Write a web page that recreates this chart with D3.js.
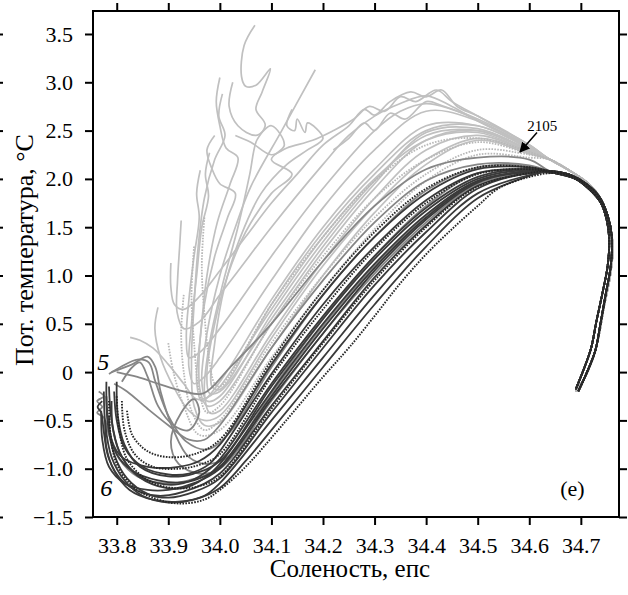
<!DOCTYPE html>
<html>
<head>
<meta charset="utf-8">
<script src="https://cdn.jsdelivr.net/npm/d3@7"></script>
<style>
  body { margin: 0; background: #fff; }
  svg text { font-family: "Liberation Serif", "Times New Roman", serif; fill: #000; }
</style>
</head>
<body>
<svg width="628" height="595"></svg>
<script>
// salinity / potential temperature ticks
let xTicks = [33.8, 33.9, 34.0, 34.1, 34.2, 34.3, 34.4, 34.5, 34.6, 34.7];
let yTicks = [-1.5, -1.0, -0.5, 0, 0.5, 1.0, 1.5, 2.0, 2.5, 3.0, 3.5];
let yTickLabels = ["\u22121.5", "\u22121.0", "\u22120.5", "0", "0.5", "1.0", "1.5", "2.0", "2.5", "3.0", "3.5"];

// profiles as [salinity, theta] from surface down to the T-max
let lightCurves = [
  [[34.068,3.59],[34.047,3.38],[34.042,3.06],[34.05,2.96],[34.07,2.97],[34.098,3.14],[34.082,2.9],[34.07,2.72],[34.088,2.56],[34.07,2.38],[34.058,2.05],[34.035,1.5],[34.005,0.9],[33.98,0.3],[33.97,-0.2],[33.98,-0.42],[34.0,-0.4],[34.1,0.4],[34.2,1.15],[34.3,1.8],[34.4,2.3],[34.5,2.45],[34.6,2.28]],
  [[34.185,3.13],[34.12,2.5],[34.06,1.92],[34.03,1.5],[34.0,1.0],[33.975,0.4],[33.965,-0.1],[33.975,-0.3],[34.0,-0.25],[34.1,0.6],[34.2,1.35],[34.3,1.98],[34.4,2.45],[34.5,2.5],[34.6,2.3]],
  [[34.0,3.05],[33.993,2.8],[34.0,2.55],[34.012,2.32],[34.035,2.22],[34.02,1.95],[33.995,1.55],[33.975,1.0],[33.963,0.4],[33.955,-0.1],[33.965,-0.3],[34.0,-0.1],[34.1,0.75],[34.2,1.5],[34.3,2.1],[34.4,2.55],[34.5,2.55],[34.6,2.32]],
  [[33.98,2.27],[33.972,2.05],[33.978,1.82],[33.965,1.5],[33.955,1.0],[33.945,0.5],[33.94,0.05],[33.95,-0.12],[33.97,-0.05],[34.0,0.15],[34.1,0.95],[34.2,1.7],[34.3,2.3],[34.4,2.7],[34.5,2.6],[34.6,2.33]],
  [[33.962,2.09],[33.955,1.85],[33.96,1.6],[33.95,1.2],[33.94,0.75],[33.935,0.35],[33.94,0.15],[33.96,0.2],[34.0,0.45],[34.1,1.2],[34.2,1.9],[34.3,2.5],[34.35,2.7],[34.4,2.78],[34.45,2.72],[34.5,2.62],[34.6,2.35]],
  [[33.925,1.57],[33.922,1.3],[33.918,0.95],[33.917,0.62],[33.93,0.45],[33.96,0.52],[34.0,0.8],[34.05,1.15],[34.1,1.5],[34.2,2.15],[34.25,2.45],[34.3,2.65],[34.35,2.78],[34.4,2.86],[34.45,2.75],[34.5,2.6],[34.6,2.33]],
  [[33.905,1.13],[33.905,0.88],[33.912,0.7],[33.93,0.65],[33.96,0.78],[34.0,1.05],[34.05,1.4],[34.1,1.75],[34.15,2.05],[34.2,2.35],[34.25,2.55],[34.28,2.72],[34.3,2.66],[34.33,2.8],[34.37,2.9],[34.4,2.85],[34.43,2.92],[34.46,2.75],[34.5,2.65],[34.6,2.35]],
  [[33.826,0.36],[33.845,0.33],[33.87,0.25],[33.9,0.08],[33.93,-0.12],[33.955,-0.28],[33.98,-0.25],[34.0,-0.15],[34.1,0.65],[34.2,1.4],[34.3,2.0],[34.4,2.4],[34.5,2.48],[34.6,2.28]],
  [[33.88,0.67],[33.874,0.45],[33.885,0.15],[33.91,-0.15],[33.94,-0.4],[33.97,-0.5],[34.0,-0.45],[34.1,0.35],[34.2,1.1],[34.3,1.72],[34.4,2.2],[34.5,2.42],[34.6,2.27]],
  [[34.005,2.88],[33.998,2.65],[34.01,2.45],[33.99,2.2],[33.97,1.8],[33.958,1.3],[33.95,0.7],[33.945,0.1],[33.95,-0.35],[33.97,-0.55],[34.0,-0.52],[34.1,0.25],[34.2,1.0],[34.3,1.65],[34.4,2.15],[34.5,2.4],[34.6,2.26]],
  [[34.025,3.0],[34.018,2.75],[34.035,2.55],[34.07,2.45],[34.1,2.55],[34.125,2.35],[34.1,2.2],[34.14,2.05],[34.1,1.85],[34.05,1.45],[34.015,1.0],[33.99,0.5],[33.975,0.0],[33.98,-0.22],[34.0,-0.2],[34.1,0.55],[34.2,1.3],[34.3,1.95],[34.4,2.48],[34.5,2.52],[34.6,2.3]],
  [[34.03,2.45],[34.06,2.38],[34.1,2.25],[34.13,2.32],[34.18,2.4],[34.22,2.5],[34.26,2.62],[34.29,2.75],[34.32,2.7],[34.35,2.85],[34.38,2.8],[34.42,2.92],[34.45,2.8],[34.5,2.65],[34.55,2.5],[34.6,2.35]],
  [[33.99,2.45],[33.975,2.3],[33.985,2.1],[34.0,1.95],[34.03,1.85],[34.015,1.6],[33.99,1.2],[33.97,0.7],[33.96,0.2],[33.962,-0.2],[33.975,-0.35],[34.0,-0.3],[34.1,0.5],[34.2,1.25],[34.3,1.9],[34.4,2.4],[34.5,2.5],[34.6,2.29]],
  [[34.14,2.72],[34.13,2.55],[34.145,2.5],[34.15,2.62],[34.165,2.48],[34.17,2.58],[34.2,2.42],[34.17,2.3],[34.13,2.15],[34.08,1.85],[34.04,1.4],[34.01,0.9],[33.99,0.3],[33.985,-0.15],[34.0,-0.18],[34.1,0.7],[34.2,1.45],[34.3,2.05],[34.4,2.5],[34.5,2.55],[34.6,2.31]],
  [[34.22,2.3],[34.25,2.42],[34.28,2.58],[34.3,2.5],[34.33,2.68],[34.36,2.62],[34.4,2.8],[34.43,2.76],[34.47,2.68],[34.52,2.55],[34.56,2.45],[34.6,2.34]]
];

let lightDotted = [
  [[33.93,0.8],[33.925,0.4],[33.93,0.0],[33.945,-0.4],[33.97,-0.6],[34.0,-0.5],[34.1,0.3],[34.2,1.0],[34.3,1.6],[34.4,2.05],[34.5,2.3],[34.6,2.25]],
  [[33.95,1.3],[33.945,0.8],[33.95,0.3],[33.96,-0.2],[33.975,-0.42],[34.0,-0.35],[34.1,0.5],[34.2,1.2],[34.3,1.8],[34.4,2.2],[34.5,2.38],[34.6,2.26]],
  [[33.9,0.3],[33.91,0.0],[33.93,-0.35],[33.96,-0.65],[34.0,-0.6],[34.1,0.15],[34.2,0.85],[34.3,1.48],[34.4,1.98],[34.5,2.25],[34.6,2.22]],
  [[33.97,1.6],[33.965,1.1],[33.97,0.6],[33.98,0.1],[33.99,-0.12],[34.0,-0.15],[34.1,0.7],[34.2,1.4],[34.3,1.98],[34.4,2.35],[34.5,2.42],[34.6,2.28]]
];

let grayCurves = [
  [[33.785,-0.02],[33.81,0.06],[33.84,0.13],[33.862,0.1],[33.875,-0.1],[33.9,-0.45],[33.935,-0.72],[33.975,-0.8],[34.02,-0.62],[34.1,0.05],[34.2,0.8],[34.3,1.4],[34.4,1.88],[34.5,2.12],[34.6,2.13]],
  [[33.79,0.0],[33.83,0.08],[33.86,0.16],[33.875,0.05],[33.885,-0.2],[33.91,-0.6],[33.94,-0.88],[33.98,-0.95],[34.04,-0.78],[34.1,-0.2],[34.2,0.55],[34.3,1.2],[34.4,1.72],[34.5,2.06],[34.6,2.1]],
  [[33.795,-0.12],[33.82,-0.2],[33.86,-0.38],[33.9,-0.55],[33.94,-0.7],[33.97,-0.7],[34.0,-0.55],[34.1,0.25],[34.2,0.95],[34.3,1.55],[34.4,1.98],[34.5,2.15],[34.6,2.14]],
  [[33.8,0.0],[33.84,-0.05],[33.88,-0.12],[33.93,-0.2],[33.968,-0.22],[34.02,0.05],[34.1,0.5],[34.2,1.15],[34.3,1.72],[34.4,2.1],[34.5,2.22],[34.6,2.2]],
  [[33.81,-0.1],[33.83,0.05],[33.845,0.1],[33.86,-0.05],[33.88,-0.35],[33.91,-0.55],[33.94,-0.6],[33.96,-0.42],[33.95,-0.28],[33.925,-0.42],[33.905,-0.72],[33.92,-0.95],[33.96,-1.05],[34.0,-1.0],[34.1,-0.3],[34.2,0.4],[34.3,1.02],[34.4,1.55],[34.5,1.95],[34.6,2.06]],
  [[33.765,-0.2],[33.775,-0.25],[33.762,-0.3],[33.772,-0.36],[33.762,-0.42],[33.775,-0.47],[33.785,-0.65],[33.805,-0.9],[33.84,-1.08],[33.89,-1.15],[33.94,-1.12],[34.0,-0.98],[34.1,-0.22],[34.2,0.48],[34.3,1.1],[34.4,1.62],[34.5,1.98],[34.6,2.08]]
];

let darkCurves = [
  [[33.775,-0.2],[33.778,-0.55],[33.79,-0.88],[33.815,-1.12],[33.85,-1.28],[33.9,-1.35],[33.95,-1.32],[34.0,-1.2],[34.05,-0.92],[34.1,-0.6],[34.2,0.05],[34.3,0.7],[34.4,1.3],[34.5,1.8],[34.6,2.03]],
  [[33.78,-0.1],[33.782,-0.5],[33.795,-0.85],[33.82,-1.1],[33.86,-1.26],[33.9,-1.3],[33.95,-1.24],[34.0,-1.1],[34.1,-0.42],[34.2,0.25],[34.3,0.9],[34.4,1.45],[34.5,1.9],[34.6,2.06]],
  [[33.785,-0.15],[33.79,-0.5],[33.805,-0.82],[33.835,-1.05],[33.88,-1.18],[33.93,-1.2],[33.97,-1.1],[34.0,-0.95],[34.1,-0.2],[34.2,0.5],[34.3,1.12],[34.4,1.63],[34.5,1.98],[34.6,2.08]],
  [[33.79,-0.3],[33.793,-0.6],[33.81,-0.88],[33.84,-1.06],[33.88,-1.15],[33.92,-1.16],[33.96,-1.08],[34.0,-0.9],[34.1,-0.12],[34.2,0.58],[34.3,1.2],[34.4,1.7],[34.5,2.02],[34.6,2.1]],
  [[33.772,-0.3],[33.763,-0.36],[33.77,-0.42],[33.775,-0.62],[33.785,-0.9],[33.81,-1.12],[33.85,-1.25],[33.89,-1.28],[33.94,-1.22],[34.0,-1.05],[34.1,-0.35],[34.2,0.32],[34.3,0.98],[34.4,1.52],[34.5,1.93],[34.6,2.06]],
  [[33.78,-0.25],[33.785,-0.58],[33.8,-0.85],[33.83,-1.02],[33.88,-1.12],[33.93,-1.14],[33.97,-1.08],[34.0,-0.98],[34.1,-0.25],[34.2,0.45],[34.3,1.08],[34.4,1.6],[34.5,1.97],[34.6,2.07]],
  [[33.795,-0.2],[33.8,-0.5],[33.815,-0.78],[33.85,-0.98],[33.9,-1.06],[33.94,-1.05],[33.98,-0.95],[34.0,-0.82],[34.1,-0.02],[34.2,0.7],[34.3,1.3],[34.4,1.78],[34.5,2.06],[34.6,2.1]],
  [[33.77,-0.4],[33.772,-0.7],[33.785,-0.98],[33.815,-1.15],[33.86,-1.22],[33.9,-1.22],[33.95,-1.15],[34.0,-1.0],[34.1,-0.28],[34.2,0.4],[34.3,1.05],[34.4,1.58],[34.5,1.96],[34.6,2.08]],
  [[33.785,-0.45],[33.79,-0.7],[33.81,-0.88],[33.86,-0.98],[33.92,-0.98],[33.96,-0.92],[34.0,-0.75],[34.1,0.08],[34.2,0.8],[34.3,1.4],[34.4,1.85],[34.5,2.1],[34.6,2.12]],
  [[33.8,-0.1],[33.802,-0.45],[33.815,-0.75],[33.845,-0.98],[33.9,-1.08],[33.95,-1.05],[34.0,-0.92],[34.1,-0.15],[34.2,0.55],[34.3,1.17],[34.4,1.67],[34.5,2.0],[34.6,2.09]],
  [[33.778,-0.5],[33.78,-0.78],[33.795,-1.02],[33.825,-1.22],[33.87,-1.32],[33.92,-1.34],[33.97,-1.28],[34.0,-1.15],[34.1,-0.5],[34.2,0.15],[34.3,0.8],[34.4,1.38],[34.5,1.85],[34.6,2.04]]
];

let darkDotted = [
  [[33.785,-0.3],[33.788,-0.65],[33.8,-0.95],[33.83,-1.18],[33.87,-1.3],[33.92,-1.36],[33.97,-1.32],[34.0,-1.22],[34.05,-0.98],[34.1,-0.68],[34.2,-0.05],[34.25,0.25],[34.3,0.58],[34.35,0.92],[34.4,1.22],[34.45,1.48],[34.5,1.72],[34.54,1.9],[34.6,2.02]],
  [[33.8,-0.25],[33.805,-0.6],[33.82,-0.9],[33.86,-1.12],[33.91,-1.2],[33.96,-1.18],[34.0,-1.08],[34.1,-0.38],[34.2,0.3],[34.3,0.95],[34.4,1.5],[34.5,1.92],[34.6,2.06]],
  [[33.81,-0.3],[33.815,-0.6],[33.835,-0.85],[33.87,-0.98],[33.92,-1.0],[33.96,-0.96],[34.0,-0.85],[34.1,-0.05],[34.2,0.65],[34.3,1.27],[34.4,1.75],[34.5,2.05],[34.6,2.1]],
  [[33.82,-0.4],[33.83,-0.65],[33.86,-0.82],[33.9,-0.88],[33.95,-0.85],[34.0,-0.7],[34.1,0.12],[34.2,0.85],[34.3,1.45],[34.4,1.9],[34.5,2.12],[34.6,2.12]]
];

// deep part shared by the profiles (T-max down to bottom water)
let tailLight = [[34.64,2.2],[34.68,2.08],[34.715,1.95],[34.74,1.78],[34.755,1.55],[34.762,1.3],[34.757,1.0],[34.745,0.68],[34.735,0.38],[34.722,0.12],[34.705,-0.08],[34.69,-0.2]];
let tailDark = [[34.64,2.08],[34.68,2.04],[34.71,1.95],[34.735,1.82],[34.752,1.62],[34.76,1.4],[34.758,1.1],[34.748,0.8],[34.738,0.5],[34.728,0.22],[34.712,0.0],[34.695,-0.2]];
let tailDark2 = [[34.65,2.06],[34.69,2.0],[34.715,1.9],[34.738,1.76],[34.75,1.58],[34.755,1.38],[34.752,1.1],[34.742,0.82],[34.73,0.52],[34.72,0.25],[34.705,0.02],[34.69,-0.18]];

// arrow for station 2105: [label, tail, tip]
let note2105 = [[34.625, 2.5], [34.615, 2.48], [34.582, 2.278]];

/***************************/

let margin = {top: 11, right: 9, bottom: 78, left: 93};
let width = 628 - margin.left - margin.right;
let height = 595 - margin.top - margin.bottom;

let xScale = d3.scaleLinear().domain([33.754, 34.774]).range([0, width]);
let yScale = d3.scaleLinear().domain([-1.5, 3.738]).range([height, 0]);

let svg = d3.select("svg");

let g = svg.append("g")
  .attr("transform", `translate(${margin.left}, ${margin.top})`);

g.append("clipPath").attr("id", "plot-clip")
  .append("rect").attr("width", width).attr("height", height);

let line = d3.line()
  .x(d => xScale(d[0]))
  .y(d => yScale(d[1]))
  .curve(d3.curveCatmullRom.alpha(0.5));

let curves = g.append("g").attr("clip-path", "url(#plot-clip)");

function drawSet(data, tails, color, w, dash) {
  curves.append("g").selectAll("path")
    .data(data)
    .join("path")
    .attr("d", (d, i) => line(d.concat(tails[i % tails.length])))
    .attr("fill", "none")
    .attr("stroke", color)
    .attr("stroke-width", w)
    .attr("stroke-linejoin", "round")
    .attr("stroke-dasharray", dash);
}

drawSet(lightCurves, [tailLight], "#c0c0c0", 1.7, null);
drawSet(lightDotted, [tailLight], "#b8b8b8", 1.8, "1.6,1.3");
drawSet(grayCurves, [tailDark2, tailDark], "#868686", 1.8, null);
drawSet(darkCurves, [tailDark, tailDark2], "#3a3a3a", 1.8, null);
drawSet(darkDotted, [tailDark2, tailDark], "#262626", 1.9, "1.6,1.3");

// axes
function styleAxis(sel) {
  sel.attr("font-family", null).attr("font-size", null);
  sel.select(".domain").remove();
  sel.selectAll("line").attr("stroke", "#000").attr("stroke-width", 2);
  sel.selectAll("text").style("font-size", "22px");
}

g.append("g")
  .attr("transform", `translate(0, ${height})`)
  .call(d3.axisBottom(xScale).tickValues(xTicks).tickSize(8).tickPadding(12).tickFormat(d3.format(".1f")))
  .call(styleAxis);

g.append("g")
  .call(d3.axisLeft(yScale).tickValues(yTicks).tickSize(8).tickPadding(12)
    .tickFormat((d, i) => yTickLabels[i]))
  .call(styleAxis);

g.append("g")
  .call(d3.axisTop(xScale).tickValues(xTicks).tickSize(8).tickFormat(""))
  .call(styleAxis);

g.append("g")
  .attr("transform", `translate(${width}, 0)`)
  .call(d3.axisRight(yScale).tickValues(yTicks).tickSize(8).tickFormat(""))
  .call(styleAxis);

// ticks of the neighbouring panel, cut by the page edge
g.append("g")
  .attr("transform", `translate(${-margin.left}, 0)`)
  .call(d3.axisRight(yScale).tickValues(yTicks).tickSize(3).tickFormat(""))
  .call(styleAxis);

g.append("rect")
  .attr("width", width).attr("height", height)
  .attr("fill", "none").attr("stroke", "#000").attr("stroke-width", 2);

// titles
g.append("text")
  .attr("x", 257).attr("y", height + 60)
  .attr("text-anchor", "middle")
  .style("font-size", "25px")
  .text("Соленость, епс");

svg.append("text")
  .attr("transform", "translate(33, 250) rotate(-90)")
  .attr("text-anchor", "middle")
  .style("font-size", "26px")
  .text("Пот. температура, °С");

// labels inside the plot
g.append("text")
  .attr("x", xScale(33.762)).attr("y", yScale(0.02))
  .style("font-size", "24px").style("font-style", "italic")
  .text("5");

g.append("text")
  .attr("x", xScale(33.768)).attr("y", yScale(-1.28))
  .style("font-size", "24px").style("font-style", "italic")
  .text("6");

g.append("text")
  .attr("x", xScale(34.66)).attr("y", yScale(-1.28))
  .style("font-size", "22px")
  .text("(e)");

svg.append("defs").append("marker")
  .attr("id", "arrow-head")
  .attr("viewBox", "0 0 10 10")
  .attr("refX", 9).attr("refY", 5)
  .attr("markerWidth", 7).attr("markerHeight", 7)
  .attr("orient", "auto")
  .append("path").attr("d", "M0,0 L10,5 L0,10 Z").attr("fill", "#000");

g.append("line")
  .attr("x1", xScale(note2105[1][0])).attr("y1", yScale(note2105[1][1]))
  .attr("x2", xScale(note2105[2][0])).attr("y2", yScale(note2105[2][1]))
  .attr("stroke", "#000").attr("stroke-width", 1.5)
  .attr("marker-end", "url(#arrow-head)");

g.append("text")
  .attr("x", xScale(note2105[0][0])).attr("y", yScale(note2105[0][1]))
  .attr("text-anchor", "middle")
  .style("font-size", "15px")
  .text("2105");
</script>
</body>
</html>
